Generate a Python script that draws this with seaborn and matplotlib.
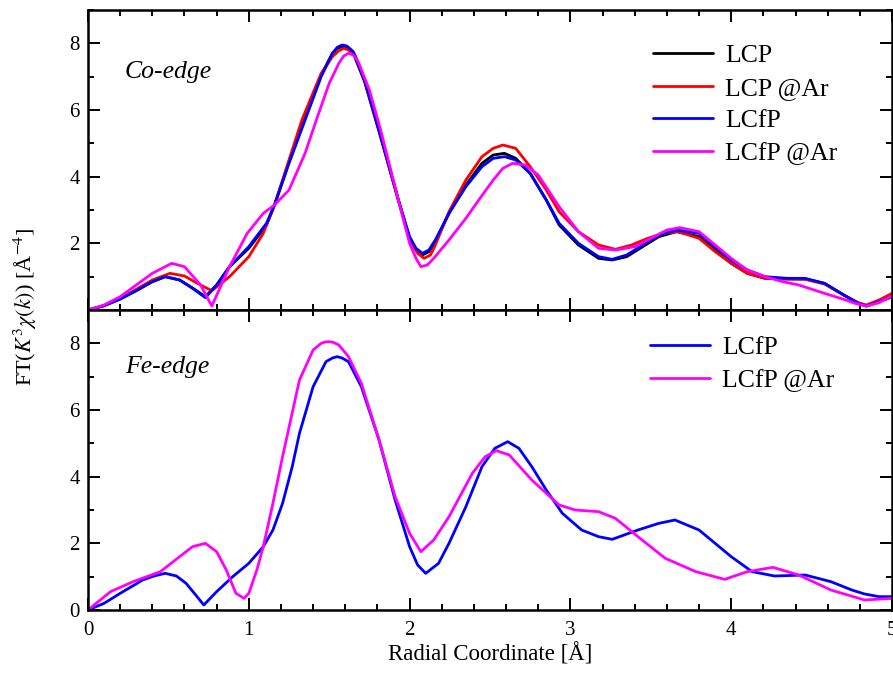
import numpy as np
import pandas as pd
import matplotlib
matplotlib.use("Agg")
import matplotlib.pyplot as plt
import seaborn as sns
from matplotlib.ticker import MultipleLocator

# Co-edge (top panel)
r_lcp = [0, 0.1, 0.2, 0.3, 0.4, 0.48, 0.57, 0.65, 0.73, 0.8, 0.88, 1.0, 1.11, 1.16, 1.25, 1.35, 1.45, 1.52,
         1.55, 1.58, 1.61, 1.65, 1.72, 1.81, 1.93, 2.0, 2.04, 2.08, 2.12, 2.16, 2.245, 2.35, 2.45, 2.52,
         2.59, 2.66, 2.75, 2.85, 2.93, 3.05, 3.175, 3.26, 3.35, 3.45, 3.55, 3.66, 3.8, 3.9, 4.0, 4.1,
         4.21, 4.35, 4.46, 4.58, 4.7, 4.79, 4.84, 4.92, 5.0]
ft_lcp = [0, 0.13, 0.33, 0.58, 0.85, 1.0, 0.9, 0.66, 0.4, 0.75, 1.3, 1.85, 2.55, 3.15, 4.45, 5.75, 7.05, 7.7,
          7.85, 7.9, 7.87, 7.7, 6.85, 5.35, 3.3, 2.15, 1.8, 1.65, 1.75, 2.05, 2.9, 3.75, 4.4, 4.65,
          4.7, 4.55, 4.1, 3.3, 2.55, 1.95, 1.55, 1.5, 1.6, 1.9, 2.2, 2.35, 2.2, 1.8, 1.4, 1.1,
          0.95, 0.93, 0.93, 0.8, 0.45, 0.2, 0.12, 0.25, 0.4]

r_lcp_ar = [0, 0.1, 0.2, 0.3, 0.4, 0.51, 0.6, 0.68, 0.77, 0.88, 1.0, 1.09, 1.16, 1.25, 1.33, 1.45, 1.52, 1.56,
            1.59, 1.62, 1.66, 1.72, 1.81, 1.93, 2.0, 2.05, 2.09, 2.13, 2.16, 2.245, 2.35, 2.45, 2.52, 2.58,
            2.66, 2.75, 2.85, 2.93, 3.05, 3.175, 3.28, 3.38, 3.48, 3.58, 3.67, 3.8, 3.9, 4.0, 4.1, 4.21,
            4.35, 4.46, 4.58, 4.7, 4.79, 4.84, 4.92, 5.0]
ft_lcp_ar = [0, 0.13, 0.35, 0.62, 0.9, 1.1, 1.02, 0.8, 0.58, 1.0, 1.6, 2.3, 3.15, 4.5, 5.7, 7.1, 7.6, 7.78,
             7.85, 7.8, 7.65, 6.9, 5.4, 3.3, 2.1, 1.7, 1.55, 1.65, 1.95, 2.95, 3.9, 4.6, 4.85, 4.95,
             4.85, 4.3, 3.6, 2.95, 2.35, 1.95, 1.82, 1.95, 2.15, 2.3, 2.35, 2.15, 1.75, 1.4, 1.1, 0.95,
             0.93, 0.92, 0.78, 0.45, 0.22, 0.15, 0.3, 0.5]

r_lcfp = [0, 0.1, 0.2, 0.3, 0.4, 0.48, 0.57, 0.65, 0.73, 0.8, 0.88, 1.0, 1.11, 1.16, 1.25, 1.35, 1.45, 1.52,
          1.55, 1.58, 1.61, 1.65, 1.72, 1.81, 1.93, 2.0, 2.04, 2.08, 2.12, 2.16, 2.245, 2.35, 2.45, 2.52,
          2.59, 2.66, 2.75, 2.85, 2.93, 3.05, 3.175, 3.26, 3.35, 3.45, 3.55, 3.66, 3.8, 3.9, 4.0, 4.1,
          4.21, 4.35, 4.46, 4.58, 4.7, 4.79, 4.84, 4.92, 5.0]
ft_lcfp = [0, 0.13, 0.33, 0.58, 0.85, 1.0, 0.9, 0.65, 0.37, 0.75, 1.3, 1.9, 2.6, 3.15, 4.4, 5.7, 7.0, 7.7,
           7.88, 7.95, 7.92, 7.75, 6.9, 5.4, 3.3, 2.2, 1.85, 1.7, 1.8, 2.1, 2.9, 3.7, 4.3, 4.55,
           4.6, 4.5, 4.1, 3.3, 2.6, 2.0, 1.6, 1.52, 1.65, 1.95, 2.25, 2.4, 2.3, 1.9, 1.5, 1.2,
           1.0, 0.95, 0.95, 0.8, 0.45, 0.2, 0.12, 0.25, 0.4]

r_lcfp_ar = [0, 0.1, 0.2, 0.3, 0.4, 0.52, 0.6, 0.7, 0.77, 0.88, 0.99, 1.09, 1.16, 1.25, 1.35, 1.42, 1.5, 1.56,
             1.59, 1.62, 1.65, 1.68, 1.75, 1.82, 1.93, 2.0, 2.04, 2.07, 2.11, 2.15, 2.245, 2.35, 2.43, 2.52,
             2.58, 2.64, 2.72, 2.8, 2.93, 3.05, 3.175, 3.28, 3.4, 3.5, 3.6, 3.68, 3.8, 3.9, 4.0, 4.1,
             4.21, 4.32, 4.42, 4.58, 4.7, 4.77, 4.84, 4.92, 5.0]
ft_lcfp_ar = [0, 0.15, 0.4, 0.75, 1.1, 1.4, 1.3, 0.75, 0.12, 1.3, 2.3, 2.9, 3.15, 3.6, 4.7, 5.7, 6.8, 7.4,
              7.62, 7.7, 7.65, 7.45, 6.6, 5.4, 3.3, 2.0, 1.55, 1.3, 1.35, 1.55, 2.1, 2.75, 3.3, 3.9,
              4.25, 4.4, 4.35, 4.05, 3.1, 2.35, 1.85, 1.8, 1.9, 2.15, 2.4, 2.47, 2.35, 1.95, 1.55, 1.2,
              1.0, 0.85, 0.75, 0.5, 0.32, 0.2, 0.12, 0.22, 0.42]

# Fe-edge (bottom panel)
r_fe_lcfp = [0, 0.1, 0.2, 0.34, 0.41, 0.48, 0.55, 0.61, 0.67, 0.72, 0.8, 0.9, 1.0, 1.09, 1.15, 1.21, 1.27,
             1.315, 1.4, 1.48, 1.52, 1.55, 1.58, 1.62, 1.7, 1.81, 1.91, 2.0, 2.05, 2.1, 2.18, 2.245, 2.35,
             2.45, 2.53, 2.61, 2.68, 2.76, 2.85, 2.95, 3.07, 3.175, 3.26, 3.42, 3.55, 3.65, 3.8, 3.9, 4.0,
             4.13, 4.27, 4.46, 4.62, 4.75, 4.83, 4.92, 5.0]
ft_fe_lcfp = [0, 0.2, 0.5, 0.9, 1.02, 1.1, 1.02, 0.8, 0.45, 0.15, 0.55, 1.0, 1.4, 1.9, 2.4, 3.2, 4.3,
              5.3, 6.7, 7.45, 7.56, 7.6, 7.56, 7.45, 6.7, 5.1, 3.3, 1.9, 1.35, 1.1, 1.4, 2.0, 3.1,
              4.3, 4.85, 5.05, 4.85, 4.3, 3.6, 2.9, 2.4, 2.2, 2.12, 2.4, 2.6, 2.7, 2.4, 2.0, 1.6,
              1.15, 1.02, 1.05, 0.85, 0.6, 0.48, 0.4, 0.4]

r_fe_lcfp_ar = [0, 0.14, 0.28, 0.45, 0.57, 0.65, 0.73, 0.8, 0.86, 0.92, 0.97, 1.0, 1.05, 1.09, 1.15, 1.21,
                1.315, 1.4, 1.45, 1.475, 1.5, 1.525, 1.56, 1.62, 1.7, 1.81, 1.91, 2.0, 2.07, 2.15, 2.245,
                2.39, 2.47, 2.54, 2.62, 2.76, 2.93, 3.03, 3.175, 3.28, 3.42, 3.59, 3.78, 3.96, 4.1, 4.26,
                4.42, 4.62, 4.83, 5.0]
ft_fe_lcfp_ar = [0, 0.55, 0.85, 1.15, 1.6, 1.9, 2.0, 1.75, 1.2, 0.5, 0.35, 0.5, 1.2, 1.9, 3.2, 4.6,
                 6.9, 7.8, 8.0, 8.04, 8.05, 8.03, 7.95, 7.6, 6.8, 5.1, 3.4, 2.3, 1.75, 2.1, 2.8,
                 4.1, 4.6, 4.78, 4.65, 3.9, 3.15, 3.0, 2.95, 2.75, 2.2, 1.55, 1.15, 0.92, 1.15, 1.28,
                 1.05, 0.6, 0.3, 0.35]

labels_co = ["LCP", "LCP @Ar", "LCfP", "LCfP @Ar"]
labels_fe = ["LCfP", "LCfP @Ar"]
colors = {"LCP": "black", "LCP @Ar": "red", "LCfP": "blue", "LCfP @Ar": "magenta"}

co = pd.concat([
    pd.DataFrame({"r": r_lcp, "ft": ft_lcp, "sample": "LCP"}),
    pd.DataFrame({"r": r_lcp_ar, "ft": ft_lcp_ar, "sample": "LCP @Ar"}),
    pd.DataFrame({"r": r_lcfp, "ft": ft_lcfp, "sample": "LCfP"}),
    pd.DataFrame({"r": r_lcfp_ar, "ft": ft_lcfp_ar, "sample": "LCfP @Ar"}),
])
fe = pd.concat([
    pd.DataFrame({"r": r_fe_lcfp, "ft": ft_fe_lcfp, "sample": "LCfP"}),
    pd.DataFrame({"r": r_fe_lcfp_ar, "ft": ft_fe_lcfp_ar, "sample": "LCfP @Ar"}),
])

sns.set_style("ticks")
plt.rcParams["font.family"] = ["Liberation Serif", "DejaVu Serif"]
plt.rcParams["mathtext.fontset"] = "stix"
plt.rcParams["axes.linewidth"] = 1.8
plt.rcParams["axes.edgecolor"] = "black"
plt.rcParams["xtick.color"] = "black"
plt.rcParams["ytick.color"] = "black"
plt.rcParams["text.color"] = "black"
plt.rcParams["axes.labelcolor"] = "black"
plt.rcParams["lines.solid_joinstyle"] = "round"

fig = plt.figure(figsize=(8.93, 6.79), dpi=100)
W, H = 893, 679
ax1 = fig.add_axes([88 / W, 1 - 310 / H, 804 / W, 300 / H])
ax2 = fig.add_axes([88 / W, 1 - 610 / H, 804 / W, 300 / H])

sns.lineplot(data=co, x="r", y="ft", hue="sample", hue_order=labels_co, palette=colors,
             estimator=None, linewidth=2.0, ax=ax1)
sns.lineplot(data=fe, x="r", y="ft", hue="sample", hue_order=labels_fe, palette=colors,
             estimator=None, linewidth=2.0, ax=ax2)

for ax in (ax1, ax2):
    ax.set_xlim(0, 5)
    ax.set_ylim(0, 9)
    ax.xaxis.set_major_locator(MultipleLocator(1))
    ax.xaxis.set_minor_locator(MultipleLocator(0.2))
    ax.yaxis.set_minor_locator(MultipleLocator(1))
    ax.tick_params(which="both", direction="in", top=True, right=True, width=1.4, labelsize=15)
    ax.tick_params(which="major", length=8.5)
    ax.tick_params(which="minor", length=4.5)
    ax.tick_params(axis="x", pad=8)
    ax.tick_params(axis="y", pad=6)
    ax.set_ylabel("")
    for s in ax.spines.values():
        s.set_linewidth(1.8)

ax1.set_yticks([2, 4, 6, 8])
ax1.tick_params(labelbottom=False)
ax1.set_xlabel("")
ax2.set_yticks([0, 2, 4, 6, 8])
ax2.set_xlabel("Radial Coordinate [Å]", fontsize=16.5, labelpad=2)

h, l = ax1.get_legend_handles_labels()
ax1.legend(h, l, loc="upper left", bbox_to_anchor=(653 / W, 1 - 44 / H), bbox_transform=fig.transFigure,
           frameon=False, fontsize=18.5, handlelength=2.35, handletextpad=0.45, labelspacing=0.38,
           borderpad=0, borderaxespad=0)
h, l = ax2.get_legend_handles_labels()
ax2.legend(h, l, loc="upper left", bbox_to_anchor=(650 / W, 1 - 336 / H), bbox_transform=fig.transFigure,
           frameon=False, fontsize=18.5, handlelength=2.35, handletextpad=0.45, labelspacing=0.38,
           borderpad=0, borderaxespad=0)

ax1.text(125 / W, 1 - 72 / H, "Co-edge", transform=fig.transFigure, fontsize=18.5, style="italic",
         va="center", ha="left")
ax2.text(125 / W, 1 - 367 / H, "Fe-edge", transform=fig.transFigure, fontsize=18.5, style="italic",
         va="center", ha="left")

fig.text(25 / W, 1 - 307 / H, r"FT($K^3\chi(k)$) [Å$^{-4}$]", rotation=90, fontsize=16,
         va="center", ha="center")

fig.savefig("out.png", dpi=100)
